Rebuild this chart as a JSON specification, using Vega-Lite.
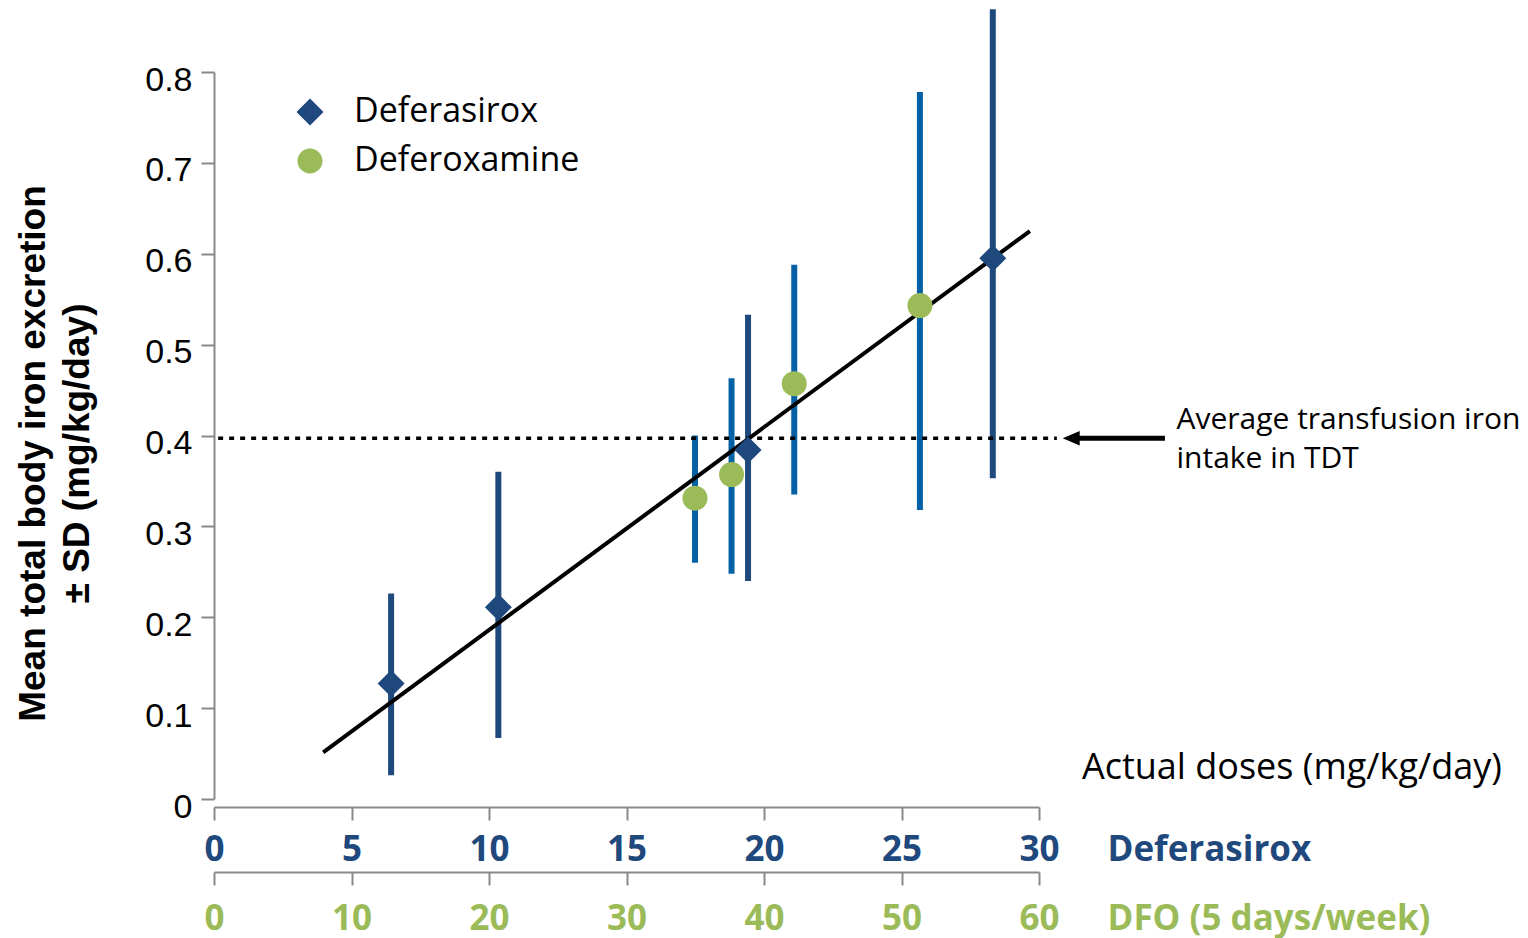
{
  "$schema": "https://vega.github.io/schema/vega-lite/v6.json",
  "width": 825,
  "height": 727,
  "autosize": {"type": "none"},
  "padding": {"left": 214, "top": 72, "right": 489, "bottom": 139},
  "background": "white",
  "config": {
    "view": {"stroke": null},
    "axis": {"grid": false}
  },
  "datasets": {
    "points": [
      {"series": "Deferasirox", "dose": 6.44, "mean": 0.127, "lo": 0.026, "hi": 0.226},
      {"series": "Deferasirox", "dose": 10.34, "mean": 0.211, "lo": 0.067, "hi": 0.36},
      {"series": "Deferasirox", "dose": 19.42, "mean": 0.384, "lo": 0.24, "hi": 0.533},
      {"series": "Deferasirox", "dose": 28.32, "mean": 0.595, "lo": 0.353, "hi": 0.869},
      {"series": "Deferoxamine", "dose": 17.49, "mean": 0.331, "lo": 0.26, "hi": 0.4},
      {"series": "Deferoxamine", "dose": 18.82, "mean": 0.357, "lo": 0.248, "hi": 0.463},
      {"series": "Deferoxamine", "dose": 21.1, "mean": 0.457, "lo": 0.335, "hi": 0.588},
      {"series": "Deferoxamine", "dose": 25.67, "mean": 0.543, "lo": 0.318, "hi": 0.778}
    ],
    "fit": [
      {"dose": 3.97, "mean": 0.0514},
      {"dose": 29.67, "mean": 0.625}
    ],
    "ref": [
      {"dose": 0.15, "dose2": 30.65, "mean": 0.397}
    ],
    "arrow": [
      {"dose": 31.3, "dose2": 34.58, "tip": 31.17, "mean": 0.397}
    ],
    "note1": [
      {"dose": 35.0, "mean": 0.397, "label": "Average transfusion iron\nintake in TDT"}
    ],
    "note2": [
      {"dose": 31.56, "mean": 0.034, "label": "Actual doses (mg/kg/day)"}
    ]
  },
  "resolve": {"axis": {"x": "independent"}},
  "layer": [
    {
      "data": {"name": "points"},
      "transform": [{"filter": "datum.series === 'Deferasirox'"}],
      "mark": {"type": "rule", "color": "#1f497d", "strokeWidth": 6},
      "encoding": {
        "x": {
          "field": "dose", "type": "quantitative",
          "scale": {"domain": [0, 30], "nice": false, "zero": false},
          "axis": {
            "orient": "bottom",
            "values": [0, 5, 10, 15, 20, 25, 30],
            "offset": 8,
            "domainColor": "#898989", "domainWidth": 2,
            "tickColor": "#898989", "tickWidth": 2, "tickSize": 13,
            "labelFlush": false,
            "labelFont": "Open Sans", "labelFontWeight": "bold", "labelFontSize": 35,
            "labelColor": "#1f497d", "labelBaseline": "alphabetic", "labelPadding": 40,
            "title": "Deferasirox",
            "titleFont": "Open Sans", "titleFontWeight": "bold", "titleFontSize": 35,
            "titleColor": "#1f497d", "titleAlign": "left", "titleBaseline": "alphabetic",
            "titleX": 893, "titleY": 53, "titleAngle": 0
          }
        },
        "y": {
          "field": "lo", "type": "quantitative",
          "title": ["Mean total body iron excretion", "± SD (mg/kg/day)"],
          "scale": {"domain": [0, 0.8], "nice": false, "zero": true},
          "axis": {
            "values": [0, 0.1, 0.2, 0.3, 0.4, 0.5, 0.6, 0.7, 0.8],
            "format": ".1~f",
            "domainColor": "#898989", "domainWidth": 2,
            "tickColor": "#898989", "tickWidth": 2, "tickSize": 13,
            "labelFont": "Liberation Sans", "labelFontSize": 34, "labelColor": "black",
            "labelPadding": 9, "labelOffset": 8,
            "titleFont": "Liberation Sans", "titleFontWeight": "bold", "titleFontSize": 37,
            "titleColor": "black", "titleAngle": -90, "titleAlign": "center",
            "titleBaseline": "middle", "titleLineHeight": 44,
            "titleX": -181, "titleY": 381
          }
        },
        "y2": {"field": "hi"}
      }
    },
    {
      "data": {"name": "points"},
      "transform": [{"filter": "datum.series === 'Deferoxamine'"}],
      "mark": {"type": "rule", "color": "#0561a6", "strokeWidth": 6},
      "encoding": {
        "x": {
          "field": "dose", "type": "quantitative",
          "axis": {
            "orient": "bottom",
            "values": [0, 5, 10, 15, 20, 25, 30],
            "labelExpr": "format(datum.value * 2, 'd')",
            "offset": 73,
            "domainColor": "#898989", "domainWidth": 2,
            "tickColor": "#898989", "tickWidth": 2, "tickSize": 13,
            "labelFlush": false,
            "labelFont": "Open Sans", "labelFontWeight": "bold", "labelFontSize": 35,
            "labelColor": "#9bbb59", "labelBaseline": "alphabetic", "labelPadding": 44,
            "title": "DFO (5 days/week)",
            "titleFont": "Open Sans", "titleFontWeight": "bold", "titleFontSize": 35,
            "titleColor": "#9bbb59", "titleAlign": "left", "titleBaseline": "alphabetic",
            "titleX": 893, "titleY": 57, "titleAngle": 0
          }
        },
        "y": {"field": "lo", "type": "quantitative", "title": ["Mean total body iron excretion", "± SD (mg/kg/day)"]},
        "y2": {"field": "hi"}
      }
    },
    {
      "data": {"name": "fit"},
      "mark": {"type": "line", "color": "black", "strokeWidth": 4},
      "encoding": {
        "x": {"field": "dose", "type": "quantitative", "axis": null},
        "y": {"field": "mean", "type": "quantitative", "title": ["Mean total body iron excretion", "± SD (mg/kg/day)"]}
      }
    },
    {
      "data": {"name": "ref"},
      "mark": {"type": "rule", "color": "black", "strokeWidth": 3.5, "strokeDash": [5, 6]},
      "encoding": {
        "x": {"field": "dose", "type": "quantitative", "axis": null},
        "x2": {"field": "dose2"},
        "y": {"field": "mean", "type": "quantitative", "title": ["Mean total body iron excretion", "± SD (mg/kg/day)"]}
      }
    },
    {
      "data": {"name": "arrow"},
      "mark": {"type": "rule", "color": "black", "strokeWidth": 5},
      "encoding": {
        "x": {"field": "dose", "type": "quantitative", "axis": null},
        "x2": {"field": "dose2"},
        "y": {"field": "mean", "type": "quantitative", "title": ["Mean total body iron excretion", "± SD (mg/kg/day)"]}
      }
    },
    {
      "data": {"name": "arrow"},
      "mark": {"type": "point", "shape": "M -1 0 L 1 -0.85 L 1 0.85 Z", "filled": true, "color": "black", "opacity": 1, "size": 289, "strokeWidth": 0},
      "encoding": {
        "x": {"field": "tip", "type": "quantitative", "axis": null},
        "y": {"field": "mean", "type": "quantitative", "title": ["Mean total body iron excretion", "± SD (mg/kg/day)"]}
      }
    },
    {
      "data": {"name": "points"},
      "mark": {"type": "point", "filled": true, "opacity": 1, "strokeWidth": 0},
      "encoding": {
        "x": {"field": "dose", "type": "quantitative", "axis": null},
        "y": {"field": "mean", "type": "quantitative", "title": ["Mean total body iron excretion", "± SD (mg/kg/day)"]},
        "color": {
          "field": "series", "type": "nominal",
          "scale": {"domain": ["Deferasirox", "Deferoxamine"], "range": ["#1f497d", "#9bbb59"]},
          "legend": {
            "title": null, "orient": "none", "legendX": 79, "legendY": 23,
            "labelFont": "Open Sans", "labelFontSize": 34, "labelColor": "black", "labelLimit": 0,
            "rowPadding": 15, "labelOffset": 27, "padding": 0, "symbolStrokeWidth": 0
          }
        },
        "shape": {
          "field": "series", "type": "nominal",
          "scale": {"domain": ["Deferasirox", "Deferoxamine"], "range": ["diamond", "circle"]},
          "legend": {
            "title": null, "orient": "none", "legendX": 79, "legendY": 23,
            "labelFont": "Open Sans", "labelFontSize": 34, "labelColor": "black", "labelLimit": 0,
            "rowPadding": 15, "labelOffset": 27, "padding": 0, "symbolStrokeWidth": 0
          }
        },
        "size": {
          "field": "series", "type": "nominal",
          "scale": {"domain": ["Deferasirox", "Deferoxamine"], "range": [729, 625]},
          "legend": {
            "title": null, "orient": "none", "legendX": 79, "legendY": 23,
            "labelFont": "Open Sans", "labelFontSize": 34, "labelColor": "black", "labelLimit": 0,
            "rowPadding": 15, "labelOffset": 27, "padding": 0, "symbolStrokeWidth": 0
          }
        }
      }
    },
    {
      "data": {"name": "note1"},
      "mark": {"type": "text", "align": "left", "baseline": "middle", "dy": -18, "font": "Open Sans", "fontSize": 30, "lineHeight": 39, "lineBreak": "\n", "color": "black"},
      "encoding": {
        "x": {"field": "dose", "type": "quantitative", "axis": null},
        "y": {"field": "mean", "type": "quantitative", "title": ["Mean total body iron excretion", "± SD (mg/kg/day)"]},
        "text": {"field": "label", "type": "nominal"}
      }
    },
    {
      "data": {"name": "note2"},
      "mark": {"type": "text", "align": "left", "baseline": "middle", "font": "Open Sans", "fontSize": 36, "color": "black"},
      "encoding": {
        "x": {"field": "dose", "type": "quantitative", "axis": null},
        "y": {"field": "mean", "type": "quantitative", "title": ["Mean total body iron excretion", "± SD (mg/kg/day)"]},
        "text": {"field": "label", "type": "nominal"}
      }
    }
  ]
}
